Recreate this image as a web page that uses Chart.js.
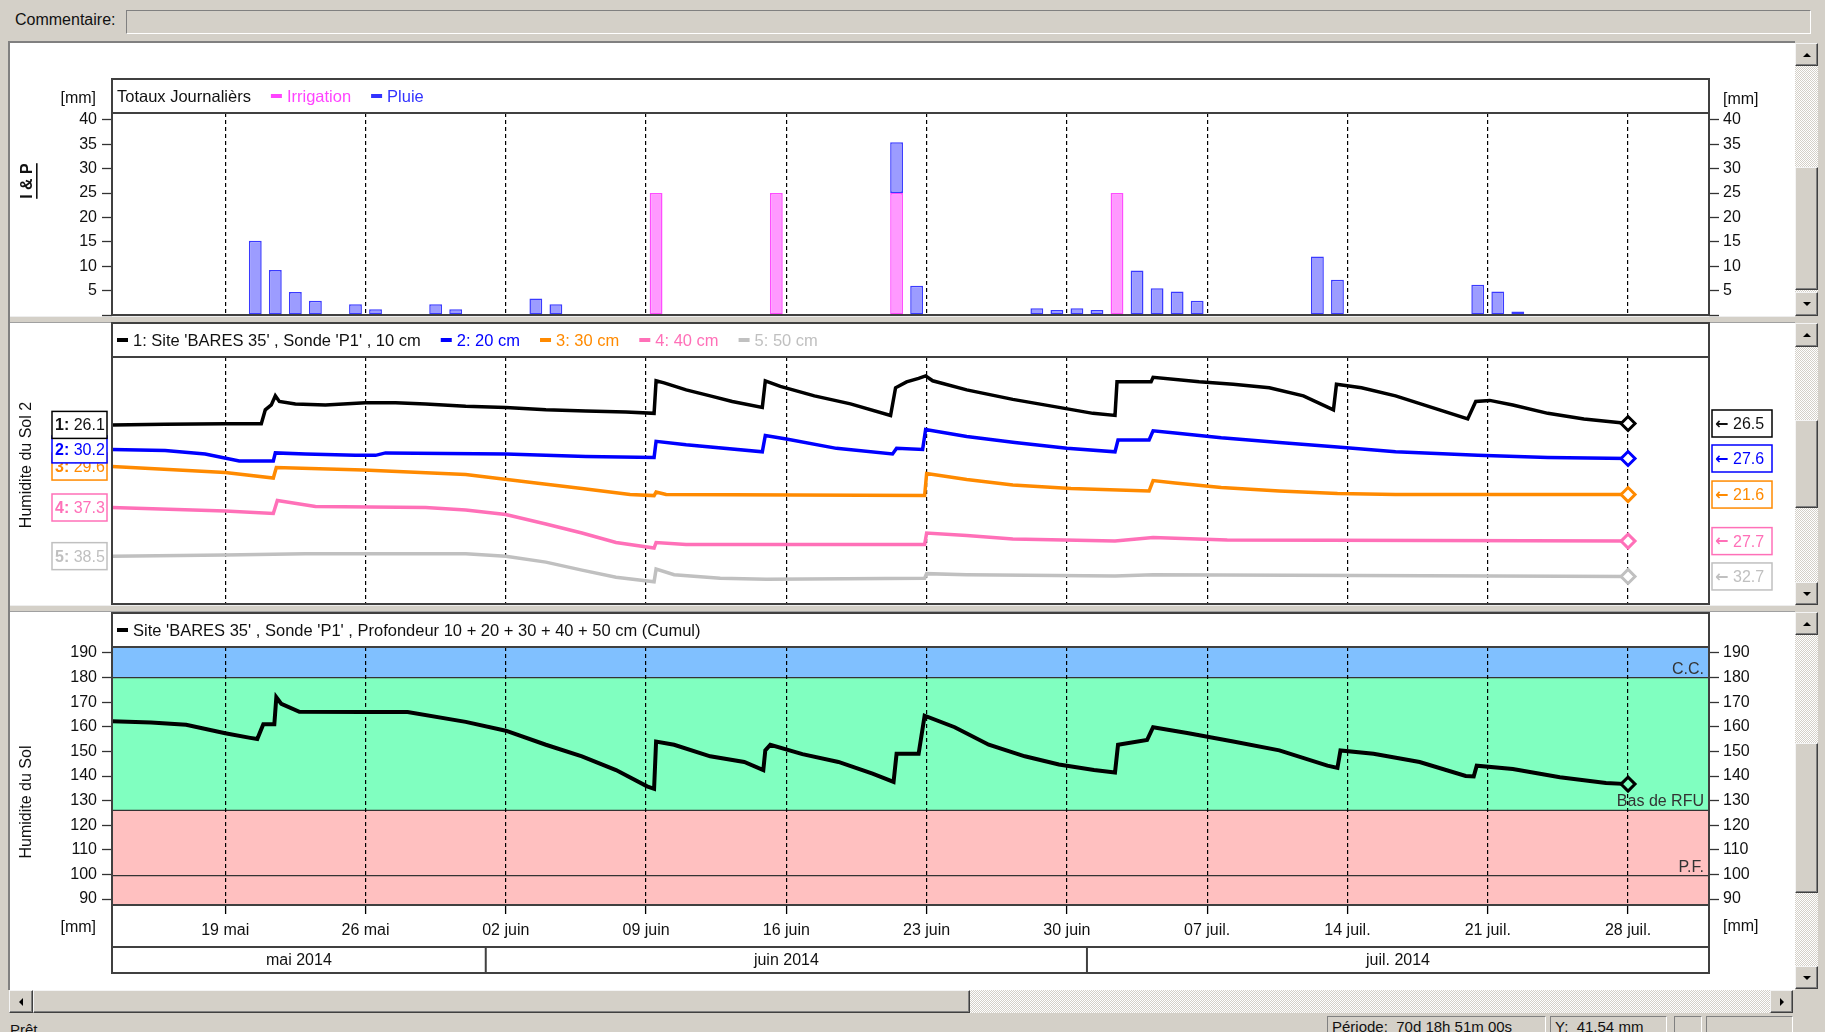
<!DOCTYPE html>
<html lang="fr">
<head>
<meta charset="utf-8">
<title>Site BARES 35 - Sonde P1</title>
<script src="https://cdn.jsdelivr.net/npm/chart.js@4.4.1/dist/chart.umd.min.js"></script>
<style>
*{box-sizing:border-box}
html,body{margin:0;padding:0;width:1825px;height:1032px;overflow:hidden;background:#d4d0c8;font-family:'Liberation Sans',Arial,sans-serif;color:#111}
.a{position:absolute}
.btn{position:absolute;background:#d4d0c8;border:1px solid;border-color:#f4f4f4 #404040 #404040 #f4f4f4;box-shadow:inset -1px -1px 0 #808080}
.track{position:absolute;background:repeating-conic-gradient(#ffffff 0 25%,#d4d0c8 0 50%) 0 0/2px 2px}
.up:after,.dn:after,.lt:after,.rt:after{content:'';position:absolute;left:50%;top:50%;width:0;height:0;border-style:solid}
.up:after{border-width:0 4px 4px 4px;border-color:transparent transparent #000 transparent;margin:-2px 0 0 -4px}
.dn:after{border-width:4px 4px 0 4px;border-color:#000 transparent transparent transparent;margin:-2px 0 0 -4px}
.lt:after{border-width:4px 4px 4px 0;border-color:transparent #000 transparent transparent;margin:-4px 0 0 -2px}
.rt:after{border-width:4px 0 4px 4px;border-color:transparent transparent transparent #000;margin:-4px 0 0 -2px}
.sunk{position:absolute;border:1px solid;border-color:#808080 #fff #fff #808080;background:#d4d0c8}
.sep{position:absolute;left:10px;width:1785px;height:7px;background:#d4d0c8;border-top:1px solid #eeeeee;border-bottom:1px solid #a0a0a0}
.st{position:absolute;top:1016px;height:17px;border:1px solid;border-color:#808080 #fff #fff #808080;font-size:15px;line-height:20px;padding-left:4px;white-space:nowrap;overflow:hidden}
canvas{position:absolute;left:0;top:0}
</style>
</head>
<body>
<div class="a" style="left:15px;top:11px;font-size:16px;">Commentaire:</div>
<div class="sunk" style="left:126px;top:10px;width:1685px;height:24px;"></div>

<div class="a" style="left:8px;top:41px;width:1787px;height:949px;background:#fff;border-top:2px solid #808080;border-left:2px solid #808080;"></div>
<div class="sep" style="top:316px"></div>
<div class="sep" style="top:605px"></div>

<!-- vertical scrollbars -->
<div class="track" style="left:1795px;top:43px;width:23px;height:273px"></div>
<div class="btn up" style="left:1795px;top:43px;width:23px;height:23px"></div>
<div class="btn" style="left:1795px;top:167px;width:23px;height:123px"></div>
<div class="btn dn" style="left:1795px;top:292px;width:23px;height:24px"></div>

<div class="track" style="left:1795px;top:323px;width:23px;height:282px"></div>
<div class="btn up" style="left:1795px;top:323px;width:23px;height:24px"></div>
<div class="btn" style="left:1795px;top:420px;width:23px;height:88px"></div>
<div class="btn dn" style="left:1795px;top:582px;width:23px;height:23px"></div>

<div class="track" style="left:1795px;top:612px;width:23px;height:377px"></div>
<div class="btn up" style="left:1795px;top:612px;width:23px;height:23px"></div>
<div class="btn" style="left:1795px;top:743px;width:23px;height:150px"></div>
<div class="btn dn" style="left:1795px;top:966px;width:23px;height:23px"></div>

<!-- horizontal scrollbar -->
<div class="track" style="left:9px;top:990px;width:1784px;height:23px"></div>
<div class="btn lt" style="left:9px;top:990px;width:24px;height:23px"></div>
<div class="btn" style="left:33px;top:990px;width:937px;height:23px"></div>
<div class="btn rt" style="left:1770px;top:990px;width:23px;height:23px"></div>

<!-- status bar -->
<div class="a" style="left:10px;top:1021px;font-size:15px;">Prêt</div>
<div class="st" style="left:1327px;width:219px;">Période:&nbsp; 70d 18h 51m 00s</div>
<div class="st" style="left:1550px;width:117px;">Y:&nbsp; 41.54 mm</div>
<div class="st" style="left:1674px;width:28px;"></div>
<div class="st" style="left:1706px;width:87px;"></div>

<canvas id="c1" width="1825" height="1032" style="width:1825px;height:1032px"></canvas>
<canvas id="c2" width="1825" height="1032" style="width:1825px;height:1032px"></canvas>
<canvas id="c3" width="1825" height="1032" style="width:1825px;height:1032px"></canvas>

<script>
// ===================== DATA =====================
// x values are days counted from 19 mai 2014 (0 = 19 mai)
const weekTicks  = [0, 7, 14, 21, 28, 35, 42, 49, 56, 63, 70];
const weekLabels = ['19 mai', '26 mai', '02 juin', '09 juin', '16 juin', '23 juin', '30 juin', '07 juil.', '14 juil.', '21 juil.', '28 juil.'];
const monthLabels    = ['mai 2014', 'juin 2014', 'juil. 2014'];
const monthStartDays = [-18, 13, 43];

// Panel 1 : Totaux journaliers (mm)
const ipTicks   = [0, 5, 10, 15, 20, 25, 30, 35, 40];
const irrigDays = [21, 27, 33, 44];
const irrigMm   = [25, 25, 25, 25];
const rainDays  = [1, 2, 3, 4, 6, 7, 10, 11, 15, 16, 33, 34, 40, 41, 42, 43, 45, 46, 47, 48, 54, 55, 62, 63, 64];
const rainMm    = [15.2, 9.2, 4.7, 2.9, 2.2, 1.2, 2.2, 1.2, 3.4, 2.2, 10.4, 6.0, 1.4, 1.0, 1.4, 1.0, 9.1, 5.5, 4.8, 2.9, 12.0, 7.2, 6.2, 4.8, 0.7];

// Panel 2 : Humidité du sol par profondeur  [day, value]
const depthLabels = ["1: Site 'BARES 35' , Sonde 'P1' , 10 cm", '2: 20 cm', '3: 30 cm', '4: 40 cm', '5: 50 cm'];
const depth10 = [[-5.65,26.1],[-3,26.3],[0,26.4],[1.8,26.4],[2.0,30.4],[2.3,31.8],[2.5,34.4],[2.7,32.8],[3.5,32.1],[5,31.8],[7,32.4],[8.5,32.4],[10,32.1],[12,31.4],[14,31.1],[16,30.4],[18,30.1],[20,29.8],[21.4,29.4],[21.5,38.7],[21.9,38.1],[23,36.1],[24.2,34.4],[25.3,32.8],[26.8,31.1],[26.95,38.7],[27.7,37.1],[29.4,34.4],[31.2,32.1],[33.2,28.8],[33.45,36.7],[34.0,38.4],[34.6,39.4],[34.95,40.1],[35.3,38.7],[37,36.1],[39.3,33.4],[41.6,31.1],[43.3,29.4],[44.4,28.8],[44.5,38.4],[45.5,38.4],[46.2,38.4],[46.3,39.7],[48.6,38.4],[50.3,37.7],[52.1,36.7],[53.8,34.4],[55.3,30.4],[55.45,37.7],[56.7,36.7],[58.4,34.4],[60.2,31.1],[62.0,27.8],[62.4,32.8],[63.1,33.1],[64.25,31.8],[66,29.4],[67.8,27.8],[70,26.5]];
const depth20 = [[-5.65,30.2],[-3,29.9],[-1,28.9],[0.7,26.9],[2.4,26.9],[2.5,29.2],[4,28.9],[6.5,28.5],[7.5,28.5],[8,29.2],[14,28.9],[18,28.2],[21.4,27.9],[21.5,32.5],[23,31.5],[26.8,29.5],[26.95,34.2],[28,33.2],[30.5,30.5],[33.3,28.9],[33.5,30.5],[34.8,30.2],[34.95,35.9],[37,33.9],[39.4,32.2],[42,30.5],[44.4,29.5],[44.55,32.9],[46.1,32.9],[46.3,35.5],[47.4,34.9],[49.7,33.5],[52.6,32.2],[55.5,30.9],[58.4,29.5],[62.5,28.5],[66,27.9],[70,27.6]];
const depth30 = [[-5.65,29.6],[0,27.9],[2.4,26.3],[2.55,29.3],[6.9,28.6],[12,27.3],[15.5,24.9],[17.8,23.3],[20.2,21.6],[21.4,21.3],[21.5,22.3],[22,21.6],[34.9,21.3],[35.0,27.6],[37,25.9],[39.3,24.3],[42.2,23.3],[46.1,22.6],[46.3,25.6],[47.4,24.9],[49.7,23.6],[52.6,22.6],[55.5,21.9],[58.4,21.6],[70,21.6]];
const depth40 = [[-5.65,37.3],[0,36.3],[2.4,35.6],[2.6,39.3],[4.5,37.6],[10,37.3],[12,36.6],[14,35.3],[16,32.6],[17.8,30.0],[19.5,27.3],[21.4,25.7],[21.5,27.3],[23,26.7],[34.9,26.7],[35.0,30.0],[37,29.3],[39.3,28.3],[44.4,27.7],[46.3,28.7],[50,28.0],[70,27.7]];
const depth50 = [[-5.65,38.5],[0,38.8],[4,39.2],[12,39.2],[14,38.5],[16,36.8],[17.8,34.5],[19.5,32.5],[21.4,31.2],[21.5,34.8],[22.4,33.2],[24.7,32.2],[27,31.9],[34.9,32.2],[35.0,33.5],[37,33.2],[44.4,32.8],[46.3,33.2],[70,32.7]];
const depthSeries = [depth10, depth20, depth30, depth40, depth50];

// Panel 3 : Humidité du sol cumulée 10..50 cm (mm)
const cumulTicks = [90, 100, 110, 120, 130, 140, 150, 160, 170, 180, 190];
const cumulLabel = "Site 'BARES 35' , Sonde 'P1' , Profondeur 10 + 20 + 30 + 40 + 50 cm (Cumul)";
const cumul = [[-5.65,162.2],[-3.7,161.7],[-1.95,160.8],[0,157.4],[1.25,155.5],[1.6,155],[1.9,161],[2.45,161],[2.55,172],[2.8,169.3],[3.7,166.1],[6.9,166],[9.1,166],[12,162],[14,158.4],[16,152.7],[17.8,148],[19.5,142.4],[21.05,135.8],[21.4,134.8],[21.5,154],[22.4,152.7],[24.2,148],[25.9,145.7],[26.85,142.4],[26.95,150.4],[27.2,152.7],[28.8,148.9],[30.6,145.7],[32.3,141],[33.35,137.6],[33.5,149],[34.6,149],[34.9,164.5],[36.4,159.8],[38.1,152.7],[39.9,148],[41.6,144.7],[43.35,142.4],[44.4,141.4],[44.55,152.7],[46.0,154.6],[46.3,159.8],[48,157.5],[50.3,154],[52.6,150.4],[55,144.2],[55.5,143.3],[55.65,150.4],[57.3,149],[59.6,145.7],[61.9,140],[62.3,139.8],[62.45,144.2],[64.25,142.8],[66.6,139.5],[68.9,137.2],[70,136.7]];
const levelValues = [180, 126, 99.5];
const levelLabels = ['C.C.', 'Bas de RFU', 'P.F.'];

// ===================== VIEW / STYLE =====================
const FONT = "'Liberation Sans', Arial, Helvetica, sans-serif";
const W = 1825, H = 1032;
const X_MIN = -5.65, X_MAX = 74.04;
const IP_MAX = 41.4;
const CUMUL_MIN = 87.6, CUMUL_MAX = 192.4;
const seriesTop = [45.5, 56.6, 60.9, 80.3, 95.4]; // vertical placement of each depth trace
const SERIES_SPAN = 70.57;
const depthColors = ['#000000', '#0000ff', '#ff8a00', '#ff70b8', '#c0c0c0'];
const depthTextColors = ['#111111', '#0000ff', '#ff8a00', '#ff70b8', '#c0c0c0'];
const FRAME = '#404040';
const LEG_SIZE = 16.5;

Chart.defaults.font.family = FONT;
Chart.defaults.font.size = 16;
Chart.defaults.color = '#111';
Chart.defaults.animation = false;

function xAxis(withLabels, plotBottom) {
  return {
    type: 'linear', min: X_MIN, max: X_MAX, position: 'bottom', offset: false,
    afterBuildTicks: s => { s.ticks = weekTicks.map(v => ({ value: v })); },
    afterFit: s => { s.height = withLabels ? H - plotBottom : 0; },
    grid: { offset: false, color: '#000', lineWidth: 1.2, drawTicks: withLabels, tickLength: 9,
            tickColor: '#000', tickWidth: 1.3, tickBorderDash: [1, 0] },
    border: { display: false, dash: [4, 3] },
    ticks: { display: withLabels, autoSkip: false, maxRotation: 0, padding: 7, color: '#111',
             font: { size: 16 }, callback: (v, i) => weekLabels[i] }
  };
}
function yAxis(pos, min, max, tickVals, width, hideZero) {
  return {
    type: 'linear', position: pos, min: min, max: max,
    afterBuildTicks: s => { s.ticks = tickVals.map(v => ({ value: v })); },
    afterFit: s => { s.width = width; },
    grid: { drawOnChartArea: false, drawTicks: true, tickLength: 10, tickColor: '#333', tickWidth: 1.3, color: '#333' },
    border: { display: false },
    ticks: { padding: pos === 'left' ? 5 : 4, color: '#111', font: { size: 16 },
             callback: v => (hideZero && v === 0) ? '' : String(v) }
  };
}

// ---------- drawing helpers ----------
function frame(ctx, l, t, r, b, seps) {
  ctx.save();
  ctx.strokeStyle = FRAME; ctx.lineWidth = 2;
  ctx.strokeRect(l, t, r - l, b - t);
  seps.forEach(y => { ctx.beginPath(); ctx.moveTo(l, y); ctx.lineTo(r, y); ctx.stroke(); });
  ctx.restore();
}
function legend(ctx, x, y, items) {
  ctx.save();
  ctx.font = `${LEG_SIZE}px ${FONT}`; ctx.textBaseline = 'middle'; ctx.textAlign = 'left';
  items.forEach(it => {
    if (it.marker) { ctx.fillStyle = it.marker; ctx.fillRect(x, y - 2, 11, 4); x += 16; }
    ctx.fillStyle = it.color; ctx.fillText(it.text, x, y + 1);
    x += ctx.measureText(it.text).width + 20;
  });
  ctx.restore();
}
function text(ctx, s, x, y, align, opts = {}) {
  ctx.save();
  ctx.font = `${opts.weight || 'normal'} ${opts.size || 16}px ${opts.family || FONT}`;
  ctx.fillStyle = opts.color || '#111';
  ctx.textAlign = align; ctx.textBaseline = opts.base || 'middle';
  ctx.fillText(s, x, y);
  ctx.restore();
}
function rotText(ctx, s, x, y, opts = {}) {
  ctx.save();
  ctx.translate(x, y); ctx.rotate(-Math.PI / 2);
  ctx.font = `${opts.weight || 'normal'} 16px ${FONT}`;
  ctx.fillStyle = '#111'; ctx.textAlign = 'center'; ctx.textBaseline = 'middle';
  ctx.fillText(s, 0, 0);
  if (opts.underline) { const w = ctx.measureText(s).width; ctx.fillRect(-w / 2, 8, w, 1.6); }
  ctx.restore();
}
function valueBox(ctx, x, y, w, h, color) {
  ctx.save();
  ctx.fillStyle = '#fff'; ctx.fillRect(x, y, w, h);
  ctx.strokeStyle = color; ctx.lineWidth = 1.5; ctx.strokeRect(x, y, w, h);
  ctx.restore();
}

// ===================== CHART 1 : Irrigation & Pluie =====================
const panel1 = {
  id: 'panel1',
  afterDraw(chart) {
    const { ctx, chartArea: a } = chart;
    frame(ctx, a.left, a.top - 34, a.right, a.bottom, [a.top]);
    legend(ctx, a.left + 5, a.top - 17, [
      { text: 'Totaux Journalièrs', color: '#111' },
      { marker: '#ff44ff', text: 'Irrigation', color: '#ff44ff' },
      { marker: '#3333ff', text: 'Pluie', color: '#3333ff' }
    ]);
    text(ctx, '[mm]', a.left - 16, a.top - 14, 'right');
    text(ctx, '[mm]', a.right + 14, a.top - 13, 'left');
    rotText(ctx, 'I & P', 28, a.top + 68, { weight: 'bold', underline: true });
  }
};
new Chart(document.getElementById('c1'), {
  type: 'bar',
  data: {
    datasets: [
      { label: 'Irrigation', data: irrigDays.map((d, i) => ({ x: d + 0.5, y: irrigMm[i] })),
        backgroundColor: '#ff99ff', borderColor: '#ff4dff', borderWidth: 1.5, borderSkipped: false,
        barPercentage: 0.8, categoryPercentage: 0.8, stack: 'ip' },
      { label: 'Pluie', data: rainDays.map((d, i) => ({ x: d + 0.5, y: rainMm[i] })),
        backgroundColor: '#9c9cff', borderColor: '#3a3aff', borderWidth: 1.5, borderSkipped: false,
        barPercentage: 0.8, categoryPercentage: 0.8, stack: 'ip' }
    ]
  },
  options: {
    responsive: false, animation: false, events: [],
    layout: { padding: { top: 113, bottom: H - 315, left: 0, right: 0 } },
    plugins: { legend: { display: false }, tooltip: { enabled: false } },
    scales: {
      x: Object.assign(xAxis(false, 315), { stacked: true }),
      y: Object.assign(yAxis('left', 0, IP_MAX, ipTicks, 112, true), { stacked: true }),
      y2: yAxis('right', 0, IP_MAX, ipTicks, W - 1709, true)
    }
  },
  plugins: [panel1]
});

// ===================== CHART 2 : Humidité du Sol 2 =====================
const panel2 = {
  id: 'panel2',
  afterDraw(chart) {
    const { ctx, chartArea: a } = chart;
    frame(ctx, a.left, a.top - 34, a.right, a.bottom, [a.top]);
    legend(ctx, a.left + 5, a.top - 17, depthLabels.map((t, i) => ({ marker: depthColors[i], text: t, color: depthTextColors[i] })));
    rotText(ctx, 'Humidite du Sol 2', 27, a.top + 108);
    // start values (left) drawn bottom-up so upper boxes overlap lower ones
    for (let i = depthSeries.length - 1; i >= 0; i--) {
      const s = depthSeries[i];
      const v = s[0][1];
      const y = chart.scales['y' + (i + 1)].getPixelForValue(v);
      valueBox(ctx, a.left - 60, y - 13.5, 55, 27, depthColors[i]);
      ctx.save();
      ctx.textBaseline = 'middle'; ctx.textAlign = 'left'; ctx.fillStyle = depthTextColors[i];
      ctx.font = `bold 16px ${FONT}`;
      const pre = (i + 1) + ':';
      ctx.fillText(pre, a.left - 57, y + 1);
      const w = ctx.measureText(pre).width;
      ctx.font = `16px ${FONT}`;
      ctx.fillText(' ' + v.toFixed(1), a.left - 57 + w, y + 1);
      ctx.restore();
    }
    // end values (right)
    depthSeries.forEach((s, i) => {
      const v = s[s.length - 1][1];
      const y = chart.scales['y' + (i + 1)].getPixelForValue(v);
      valueBox(ctx, a.right + 3, y - 13.5, 60, 27, depthColors[i]);
      text(ctx, '\u2190', a.right + 6, y + 1, 'left', { color: depthTextColors[i], weight: 'bold', size: 16, family: "'DejaVu Sans', sans-serif" });
      text(ctx, v.toFixed(1), a.right + 24, y + 1, 'left', { color: depthTextColors[i] });
    });
  }
};
const scales2 = { x: xAxis(false, 604) };
depthSeries.forEach((s, i) => {
  scales2['y' + (i + 1)] = { type: 'linear', display: false, min: seriesTop[i] - SERIES_SPAN, max: seriesTop[i] };
});
new Chart(document.getElementById('c2'), {
  type: 'line',
  data: {
    datasets: depthSeries.map((s, i) => ({
      label: depthLabels[i],
      data: s.map(p => ({ x: p[0], y: p[1] })),
      yAxisID: 'y' + (i + 1),
      borderColor: depthColors[i], borderWidth: 3.5, tension: 0,
      pointStyle: 'rectRot', pointBackgroundColor: '#fff', pointBorderColor: depthColors[i], pointBorderWidth: 3,
      pointRadius: c => c.dataIndex === s.length - 1 ? 7 : 0
    }))
  },
  options: {
    responsive: false, animation: false, events: [],
    layout: { padding: { top: 357, bottom: H - 604, left: 112, right: W - 1709 } },
    plugins: { legend: { display: false }, tooltip: { enabled: false } },
    scales: scales2
  },
  plugins: [panel2]
});

// ===================== CHART 3 : Humidité du Sol (cumul) =====================
const bandColors = ['#80c0ff', '#80ffc0', '#ffc0c0'];
const panel3 = {
  id: 'panel3',
  beforeDraw(chart) {
    const { ctx, chartArea: a, scales: { y } } = chart;
    const yCC = y.getPixelForValue(levelValues[0]);
    const yRFU = y.getPixelForValue(levelValues[1]);
    ctx.save();
    ctx.fillStyle = bandColors[0]; ctx.fillRect(a.left, a.top, a.right - a.left, yCC - a.top);
    ctx.fillStyle = bandColors[1]; ctx.fillRect(a.left, yCC, a.right - a.left, yRFU - yCC);
    ctx.fillStyle = bandColors[2]; ctx.fillRect(a.left, yRFU, a.right - a.left, a.bottom - yRFU);
    ctx.strokeStyle = '#333'; ctx.lineWidth = 1.3;
    levelValues.forEach(v => {
      const py = y.getPixelForValue(v);
      ctx.beginPath(); ctx.moveTo(a.left, py); ctx.lineTo(a.right, py); ctx.stroke();
    });
    ctx.restore();
  },
  afterDraw(chart) {
    const { ctx, chartArea: a, scales: { x, y } } = chart;
    levelValues.forEach((v, i) => {
      text(ctx, levelLabels[i], a.right - 5, y.getPixelForValue(v) - 4, 'right', { color: '#333', base: 'alphabetic' });
    });
    const monthTop = a.bottom + 42, monthBot = a.bottom + 68;
    frame(ctx, a.left, a.top - 34, a.right, monthBot, [a.top, a.bottom, monthTop]);
    ctx.save(); ctx.strokeStyle = FRAME; ctx.lineWidth = 2;
    monthStartDays.forEach((d, i) => {
      const s = Math.max(d, X_MIN);
      const e = i + 1 < monthStartDays.length ? monthStartDays[i + 1] : X_MAX;
      const xs = x.getPixelForValue(s), xe = x.getPixelForValue(Math.min(e, X_MAX));
      if (d > X_MIN) { ctx.beginPath(); ctx.moveTo(xs, monthTop); ctx.lineTo(xs, monthBot); ctx.stroke(); }
      text(ctx, monthLabels[i], (xs + xe) / 2, (monthTop + monthBot) / 2 + 1, 'center');
    });
    ctx.restore();
    legend(ctx, a.left + 5, a.top - 17, [{ marker: '#000', text: cumulLabel, color: '#111' }]);
    text(ctx, '[mm]', a.left - 16, a.bottom + 23, 'right');
    text(ctx, '[mm]', a.right + 14, a.bottom + 22, 'left');
    rotText(ctx, 'Humidite du Sol', 27, a.top + 155);
  }
};
new Chart(document.getElementById('c3'), {
  type: 'line',
  data: {
    datasets: [{
      label: cumulLabel,
      data: cumul.map(p => ({ x: p[0], y: p[1] })),
      borderColor: '#000', borderWidth: 4, tension: 0,
      pointStyle: 'rectRot', pointBackgroundColor: '#80ffc0', pointBorderColor: '#000', pointBorderWidth: 3,
      pointRadius: c => c.dataIndex === cumul.length - 1 ? 7 : 0
    }]
  },
  options: {
    responsive: false, animation: false, events: [],
    layout: { padding: { top: 647, bottom: 0, left: 0, right: 0 } },
    plugins: { legend: { display: false }, tooltip: { enabled: false } },
    scales: {
      x: xAxis(true, 905),
      y: yAxis('left', CUMUL_MIN, CUMUL_MAX, cumulTicks, 112, false),
      y2: yAxis('right', CUMUL_MIN, CUMUL_MAX, cumulTicks, W - 1709, false)
    }
  },
  plugins: [panel3]
});
</script>
</body>
</html>
